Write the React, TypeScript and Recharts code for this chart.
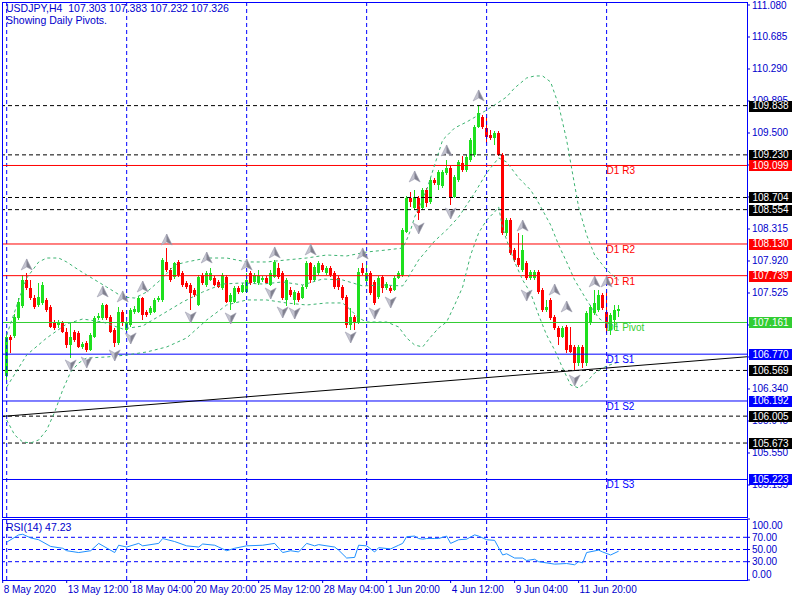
import React from "react";
import {
  ComposedChart,
  Bar,
  Line,
  Scatter,
  XAxis,
  YAxis,
  ReferenceLine,
} from "recharts";

// USDJPY H4 candles, bar 0 = 8 May 2020
const opens = [
  106.501, 106.982, 106.994, 107.216, 107.365, 107.686, 107.587, 107.463, 107.377, 107.402,
  107.439, 107.353, 107.167, 107.13, 107.155, 107.043, 106.883, 107.043, 107.031, 106.859,
  106.908, 106.822, 106.982, 107.216, 107.216, 107.377, 107.229, 107.068, 106.908, 107.29,
  107.068, 107.13, 107.29, 107.29, 107.463, 107.29, 107.278, 107.29, 107.439, 107.439,
  107.908, 107.809, 107.723, 107.908, 107.772, 107.649, 107.624, 107.562, 107.377, 107.748,
  107.624, 107.686, 107.71, 107.661, 107.587, 107.723, 107.414, 107.414, 107.587, 107.537,
  107.537, 107.772, 107.661, 107.649, 107.686, 107.71, 107.624, 107.723, 107.834, 107.772,
  107.439, 107.562, 107.439, 107.525, 107.463, 107.599, 107.896, 107.686, 107.772, 107.871,
  107.772, 107.834, 107.772, 107.71, 107.599, 107.476, 107.13, 107.229, 107.155, 107.834,
  107.674, 107.772, 107.661, 107.476, 107.723, 107.587, 107.587, 107.562, 107.71, 107.748,
  108.278, 108.698, 108.574, 108.698, 108.574, 108.797, 108.648, 108.92, 108.858, 108.846,
  109.007, 109.068, 108.71, 108.92, 109.13, 109.044, 109.167, 109.229, 109.574, 109.698,
  109.562, 109.476, 109.439, 109.5, 109.229, 108.266, 108.426, 108.056, 107.957, 107.809,
  107.896, 107.71, 107.71, 107.784, 107.562, 107.315, 107.439, 107.229, 107.093, 106.982,
  107.106, 106.883, 106.859, 106.661, 106.859, 106.661, 107.155, 107.278, 107.315, 107.5,
  107.29, 107.068, 107.192, 107.303,
];
const highs = [
  107.019, 107.006, 107.266, 107.463, 107.748, 107.772, 107.686, 107.5, 107.649, 107.661,
  107.463, 107.377, 107.192, 107.192, 107.18, 107.093, 107.155, 107.068, 107.056, 106.92,
  106.933, 107.031, 107.241, 107.278, 107.402, 107.389, 107.253, 107.093, 107.353, 107.315,
  107.18, 107.34, 107.365, 107.488, 107.476, 107.315, 107.365, 107.463, 107.488, 107.957,
  108.08, 107.834, 107.908, 107.933, 107.797, 107.674, 107.649, 107.587, 107.748, 107.772,
  107.797, 107.834, 107.735, 107.686, 107.772, 107.748, 107.525, 107.612, 107.612, 107.649,
  107.772, 107.797, 107.772, 107.809, 107.735, 107.735, 107.809, 107.933, 107.896, 107.797,
  107.71, 107.599, 107.562, 107.55, 107.624, 107.921, 107.908, 107.871, 107.921, 107.896,
  107.859, 107.859, 107.797, 107.735, 107.624, 107.5, 107.34, 107.253, 107.834, 107.896,
  107.871, 107.797, 107.686, 107.735, 107.748, 107.661, 107.612, 107.735, 107.797, 108.328,
  108.722, 108.772, 108.797, 108.722, 108.821, 108.821, 108.945, 108.945, 109.044, 109.044,
  109.167, 109.093, 108.982, 109.167, 109.216, 109.229, 109.439, 109.599, 109.846, 109.722,
  109.698, 109.537, 109.525, 109.525, 109.253, 108.451, 108.451, 108.08, 108.266, 108.241,
  107.921, 107.809, 107.809, 107.809, 107.587, 107.439, 107.463, 107.253, 107.118, 107.118,
  107.13, 107.106, 106.883, 106.883, 106.883, 107.303, 107.377, 107.562, 107.562, 107.525,
  107.537, 107.278, 107.377, 107.383,
];
const lows = [
  106.451, 106.785, 106.97, 107.192, 107.34, 107.562, 107.439, 107.328, 107.353, 107.377,
  107.29, 107.093, 107.068, 107.093, 107.031, 106.846, 106.723, 106.92, 106.846, 106.834,
  106.797, 106.81, 106.97, 107.192, 107.192, 107.192, 107.031, 106.859, 106.883, 107.118,
  107.043, 107.106, 107.266, 107.278, 107.192, 107.229, 107.253, 107.278, 107.414, 107.414,
  107.784, 107.661, 107.698, 107.723, 107.599, 107.575, 107.315, 107.476, 107.365, 107.624,
  107.599, 107.674, 107.612, 107.587, 107.562, 107.402, 107.315, 107.402, 107.513, 107.525,
  107.525, 107.624, 107.636, 107.624, 107.661, 107.636, 107.612, 107.71, 107.698, 107.439,
  107.365, 107.476, 107.377, 107.414, 107.451, 107.575, 107.649, 107.661, 107.748, 107.784,
  107.748, 107.723, 107.575, 107.562, 107.439, 107.093, 107.068, 107.068, 107.143, 107.748,
  107.649, 107.5, 107.377, 107.451, 107.525, 107.562, 107.525, 107.55, 107.698, 107.723,
  108.266, 108.587, 108.55, 108.426, 108.55, 108.587, 108.624, 108.858, 108.797, 108.821,
  108.982, 108.611, 108.698, 108.895, 109.019, 109.019, 109.142, 109.204, 109.562, 109.549,
  109.377, 109.414, 109.352, 109.216, 108.241, 108.229, 107.994, 107.908, 107.846, 107.784,
  107.686, 107.686, 107.686, 107.513, 107.29, 107.29, 107.192, 107.068, 106.883, 106.97,
  106.785, 106.785, 106.575, 106.624, 106.599, 106.624, 107.13, 107.253, 107.29, 107.315,
  107.031, 107.006, 107.068, 107.232,
];
const closes = [
  106.982, 106.945, 107.229, 107.414, 107.686, 107.587, 107.463, 107.353, 107.476, 107.624,
  107.315, 107.106, 107.093, 107.167, 107.043, 106.883, 106.982, 106.945, 106.859, 106.896,
  106.822, 107.006, 107.216, 107.241, 107.377, 107.216, 107.043, 106.908, 107.29, 107.155,
  107.155, 107.315, 107.328, 107.463, 107.253, 107.253, 107.34, 107.439, 107.463, 107.933,
  107.809, 107.686, 107.896, 107.748, 107.624, 107.599, 107.525, 107.5, 107.723, 107.649,
  107.772, 107.772, 107.624, 107.599, 107.748, 107.414, 107.5, 107.587, 107.537, 107.624,
  107.686, 107.649, 107.748, 107.735, 107.71, 107.649, 107.772, 107.908, 107.723, 107.463,
  107.686, 107.5, 107.537, 107.439, 107.599, 107.896, 107.686, 107.846, 107.896, 107.809,
  107.834, 107.748, 107.599, 107.599, 107.463, 107.13, 107.229, 107.155, 107.784, 107.772,
  107.772, 107.525, 107.402, 107.71, 107.587, 107.636, 107.55, 107.71, 107.772, 108.303,
  108.698, 108.648, 108.71, 108.513, 108.797, 108.636, 108.92, 108.883, 109.019, 109.019,
  109.068, 108.71, 108.957, 109.142, 109.044, 109.204, 109.414, 109.574, 109.747, 109.574,
  109.451, 109.439, 109.5, 109.229, 108.266, 108.426, 108.019, 107.933, 107.871, 108.056,
  107.71, 107.784, 107.784, 107.537, 107.315, 107.353, 107.216, 107.093, 106.982, 107.093,
  106.822, 106.797, 106.661, 106.859, 106.661, 107.278, 107.353, 107.402, 107.5, 107.34,
  107.093, 107.253, 107.315, 107.326,
];

// Bollinger bands (20), read at selected bars: [bar, price]
const bbUpper: [number, number][] = [
  [0, 107.006], [3, 107.439], [5, 107.71], [8, 107.908], [10, 107.957], [13, 107.957],
  [15, 107.908], [18, 107.809], [20, 107.748], [25, 107.599], [29, 107.476], [32, 107.463],
  [35, 107.537], [39, 107.71], [42, 107.871], [45, 107.908], [50, 107.957], [55, 107.957],
  [60, 107.908], [65, 107.908], [70, 107.933], [75, 107.957], [80, 107.994], [85, 107.982],
  [90, 108.031], [95, 108.056], [99, 108.08], [100, 108.179], [101, 108.303], [102, 108.463],
  [105, 108.797], [107, 109.105], [109, 109.414], [112, 109.562], [115, 109.636], [118, 109.722],
  [120, 109.784], [122, 109.846], [125, 109.945], [127, 110.056], [130, 110.179], [132, 110.204],
  [134, 110.204], [136, 110.13], [138, 109.846], [140, 109.414], [142, 108.858], [143, 108.587],
  [145, 108.241], [147, 107.994], [150, 107.809], [153, 107.686],
];
const bbMiddle: [number, number][] = [
  [0, 106.365], [5, 106.76], [10, 106.97], [15, 107.143], [19, 107.204], [24, 107.167],
  [29, 107.081], [34, 107.118], [39, 107.266], [44, 107.414], [49, 107.537], [54, 107.636],
  [59, 107.649], [64, 107.636], [69, 107.661], [74, 107.624], [79, 107.698], [84, 107.686],
  [89, 107.612], [94, 107.624], [99, 107.612], [100, 107.686], [103, 107.933], [107, 108.167],
  [110, 108.303], [113, 108.463], [117, 108.76], [120, 109.007], [123, 109.192], [125, 109.142],
  [128, 108.945], [131, 108.797], [133, 108.636], [136, 108.365], [138, 108.118], [140, 107.908],
  [142, 107.686], [145, 107.439], [148, 107.216], [150, 107.142], [153, 107.105],
];
const bbLower: [number, number][] = [
  [0, 105.958], [2, 105.772], [4, 105.686], [6, 105.674], [8, 105.711], [10, 105.834],
  [12, 106.056], [14, 106.328], [16, 106.55], [18, 106.661], [20, 106.723], [25, 106.735],
  [30, 106.76], [35, 106.797], [40, 106.859], [45, 106.97], [50, 107.192], [55, 107.377],
  [60, 107.439], [65, 107.439], [70, 107.402], [75, 107.377], [80, 107.402], [84, 107.402],
  [86, 107.315], [88, 107.216], [90, 107.167], [95, 107.167], [98, 107.106], [100, 106.97],
  [102, 106.883], [104, 106.859], [106, 106.982], [108, 107.093], [110, 107.167], [112, 107.377],
  [114, 107.599], [116, 107.994], [118, 108.266], [120, 108.426], [122, 108.525], [123, 108.587],
  [124, 108.328], [125, 108.179], [127, 107.908], [129, 107.686], [131, 107.525], [133, 107.253],
  [135, 107.006], [137, 106.822], [139, 106.599], [141, 106.39], [143, 106.353], [145, 106.427],
  [147, 106.537], [150, 106.624], [153, 106.673],
];

// RSI(14) read at selected bars
const rsiPoints: [number, number][] = [
  [0, 62], [3, 74], [4, 75], [6, 69], [8, 66], [11, 55], [14, 52], [15, 48], [18, 45],
  [21, 48], [23, 60], [27, 45], [28, 57], [30, 54], [33, 60], [34, 56], [38, 60], [39, 68],
  [42, 63], [45, 56], [48, 54], [49, 59], [52, 57], [53, 54], [55, 48], [57, 52], [60, 56],
  [64, 57], [67, 60], [69, 45], [71, 48], [73, 46], [75, 60], [77, 56], [78, 58], [82, 54],
  [83, 49], [85, 36], [87, 37], [88, 57], [90, 56], [92, 46], [93, 53], [96, 51], [98, 57],
  [99, 60], [100, 71], [102, 72], [103, 68], [104, 67], [105, 68], [107, 68], [108, 68],
  [110, 72], [111, 60], [113, 66], [115, 67], [117, 74], [118, 72], [120, 66], [122, 65],
  [124, 41], [125, 43], [127, 36], [129, 36], [130, 32], [132, 34], [133, 30], [137, 26],
  [140, 27], [142, 25], [143, 30], [144, 28], [145, 45], [148, 49], [149, 46], [151, 41],
  [153, 47.23],
];

// fractals: [bar, price of the arrow]
const fractalsUp: [number, number][] = [
  [5, 107.871], [24, 107.538], [29, 107.476], [34, 107.599], [40, 108.179], [50, 107.957],
  [60, 107.871], [67, 108.019], [76, 108.056], [89, 108.007], [102, 108.957], [110, 109.278],
  [118, 109.957], [129, 108.352], [137, 107.562], [140, 107.352], [147, 107.661], [150, 107.661],
];
const fractalsDown: [number, number][] = [
  [16, 106.637], [20, 106.673], [27, 106.76], [31, 106.97], [46, 107.229], [56, 107.217],
  [66, 107.525], [69, 107.291], [72, 107.278], [86, 106.982], [92, 107.278], [96, 107.414],
  [103, 108.328], [111, 108.513], [130, 107.5], [142, 106.451],
];

// daily pivots
const pivotNames = ["D1 R3", "D1 R2", "D1 R1", "D1 Pivot", "D1 S1", "D1 S2", "D1 S3"];
const pivotValues = [109.099, 108.13, 107.739, 107.161, 106.77, 106.192, 105.223];
const pivotStartBar = 150;
const dashedLevels = [109.838, 109.23, 108.704, 108.554, 106.569, 106.005, 105.673];
const trendline = [
  { x: -1.05, y: 106.002 },
  { x: 185.1, y: 106.738 },
];

const priceTicks = [
  111.08, 110.685, 110.29, 109.895, 109.5, 109.105, 108.71, 108.315, 107.92, 107.525, 107.13,
  106.735, 106.34, 105.945, 105.55, 105.155,
];
const rsiTicks = [100, 70, 50, 30, 0];
const rsiLevels = [70, 50, 30];
const timeTicks = [-1, 15, 31, 47, 63, 79, 95, 111, 127, 143];
const timeLabels = [
  "8 May 2020",
  "13 May 12:00",
  "18 May 04:00",
  "20 May 20:00",
  "25 May 12:00",
  "28 May 04:00",
  "1 Jun 20:00",
  "4 Jun 12:00",
  "9 Jun 04:00",
  "11 Jun 20:00",
];
const gridBars = [0, 30, 60, 90, 120, 150];

const FONT = '"Liberation Sans", Arial, sans-serif';
const TEXT_BLUE = "#0000cc";
const GRID_BLUE = "#0000ff";
const BULL = "#1ee01e";
const BEAR = "#ff0000";
const BANDS = "#3cb371";
const PIVOT_COLORS = ["#ff0000", "#ff0000", "#ff0000", "#32cd32", "#0000ff", "#0000ff", "#0000ff"];
const X_DOMAIN: [number, number] = [-1.05, 185.1];

type Row = {
  i: number;
  open: number;
  high: number;
  low: number;
  close: number;
  bbUp: number | null;
  bbMid: number | null;
  bbLow: number | null;
  rsi: number | null;
};

const rows: Row[] = opens.map((o, i) => ({
  i,
  open: o,
  high: highs[i],
  low: lows[i],
  close: closes[i],
  bbUp: null,
  bbMid: null,
  bbLow: null,
  rsi: null,
}));
bbUpper.forEach(([i, v]) => (rows[i].bbUp = v));
bbMiddle.forEach(([i, v]) => (rows[i].bbMid = v));
bbLower.forEach(([i, v]) => (rows[i].bbLow = v));
rsiPoints.forEach(([i, v]) => (rows[i].rsi = v));

const upArrows = fractalsUp.map(([i, p]) => ({ i, p }));
const downArrows = fractalsDown.map(([i, p]) => ({ i, p }));
const pivotTags = pivotValues.map((p, k) => ({ i: pivotStartBar, p, name: pivotNames[k], color: PIVOT_COLORS[k] }));

// price tags on the right scale: level value -> box colour
const tagColors = new Map<number, string>();
dashedLevels.forEach((v) => tagColors.set(v, "#000"));
pivotValues.forEach((v, k) => tagColors.set(v, PIVOT_COLORS[k]));
// tags come after the plain ticks so they are drawn on top of them
const axisTicks = [...priceTicks, ...dashedLevels, ...pivotValues];

const Candle = (props: any) => {
  const { x, y, width, height, payload } = props;
  if (x == null || y == null || !payload) return null;
  const top = Math.min(y, y + height);
  const h = Math.abs(height);
  const { open, close, high, low } = payload;
  const k = high > low ? h / (high - low) : 0;
  const yO = top + (high - open) * k;
  const yC = top + (high - close) * k;
  const color = close >= open ? BULL : BEAR;
  const cx = Math.round(x + width / 2 - 0.5);
  const bodyTop = Math.round(Math.min(yO, yC));
  const bodyH = Math.max(1, Math.round(Math.abs(yC - yO)));
  return (
    <g shapeRendering="crispEdges">
      <rect x={cx} y={Math.round(top)} width={1} height={Math.max(1, Math.round(h))} fill={color} />
      <rect x={cx - 1} y={bodyTop} width={3} height={bodyH} fill={color} />
    </g>
  );
};

const FractalUp = (props: any) => {
  const { cx, cy } = props;
  if (cx == null) return null;
  return (
    <g>
      <path d={`M${cx},${cy - 6} L${cx},${cy + 2} L${cx - 5.5},${cy + 5} Z`} fill="#c4c4d0" stroke="#a0a0b0" strokeWidth={0.6} />
      <path d={`M${cx},${cy - 6} L${cx + 5.5},${cy + 5} L${cx},${cy + 2} Z`} fill="#80808e" stroke="#a0a0b0" strokeWidth={0.6} />
    </g>
  );
};

const FractalDown = (props: any) => {
  const { cx, cy } = props;
  if (cx == null) return null;
  return (
    <g>
      <path d={`M${cx},${cy + 6} L${cx},${cy - 2} L${cx - 5.5},${cy - 5} Z`} fill="#c4c4d0" stroke="#a0a0b0" strokeWidth={0.6} />
      <path d={`M${cx},${cy + 6} L${cx + 5.5},${cy - 5} L${cx},${cy - 2} Z`} fill="#80808e" stroke="#a0a0b0" strokeWidth={0.6} />
    </g>
  );
};

const PivotName = (props: any) => {
  const { cx, cy, payload } = props;
  if (cx == null || !payload) return null;
  return (
    <text x={cx} y={cy + 9} fill={payload.color} fontSize={10} fontFamily={FONT}>
      {payload.name}
    </text>
  );
};

const PriceAxisTick = (props: any) => {
  const { x, y, payload } = props;
  const v: number = payload.value;
  const bg = tagColors.get(v);
  if (bg) {
    return (
      <g>
        <rect x={x - 3} y={Math.round(y) - 5} width={43} height={11} fill={bg} shapeRendering="crispEdges" />
        <text x={x + 18.5} y={y} dy="0.35em" textAnchor="middle" fill="#fff" fontSize={10} fontFamily={FONT}>
          {v.toFixed(3)}
        </text>
      </g>
    );
  }
  return (
    <g>
      <line x1={x - 5} x2={x - 2} y1={y} y2={y} stroke={TEXT_BLUE} />
      <text x={x} y={y} dy="0.35em" fill={TEXT_BLUE} fontSize={10} fontFamily={FONT}>
        {v.toFixed(3)}
      </text>
    </g>
  );
};

const TimeTick = (props: any) => {
  const { x, y, payload } = props;
  const k = timeTicks.indexOf(payload.value);
  return (
    <text x={x + 1} y={y + 8} fill={TEXT_BLUE} fontSize={10} fontFamily={FONT}>
      {timeLabels[k]}
    </text>
  );
};

const RsiTick = (props: any) => {
  const { x, y, payload } = props;
  const v = payload.value;
  const dy = v === 100 ? 6 : v === 0 ? -6 : 0;
  return (
    <g>
      <line x1={x - 5} x2={x - 2} y1={y} y2={y} stroke={TEXT_BLUE} />
      <text x={x} y={y + dy} dy="0.35em" fill={TEXT_BLUE} fontSize={10} fontFamily={FONT}>
        {v.toFixed(2)}
      </text>
    </g>
  );
};

export default function App() {
  const last = opens.length - 1;
  const header = `USDJPY,H4  ${opens[last].toFixed(3)} ${highs[last].toFixed(3)} ${lows[last].toFixed(3)} ${closes[last].toFixed(3)}`;
  const lastRsi = rsiPoints[rsiPoints.length - 1][1];

  return (
    <div style={{ position: "absolute", left: 0, top: 0, width: 800, height: 600, background: "#fff", fontFamily: FONT }}>
      <div style={{ position: "absolute", left: 0, top: 0 }}>
        <ComposedChart width={800} height={520} data={rows} margin={{ top: 2, right: 0, bottom: 3, left: 2.5 }}>
          <XAxis dataKey="i" type="number" domain={X_DOMAIN} allowDataOverflow hide />
          <YAxis
            orientation="right"
            domain={[104.76, 111.117]}
            allowDataOverflow
            ticks={axisTicks}
            interval={0}
            width={53}
            axisLine={false}
            tickLine={false}
            tickSize={3}
            tick={(p: any) => <PriceAxisTick {...p} />}
          />
          {gridBars.map((b) => (
            <ReferenceLine key={`g${b}`} x={b} stroke={GRID_BLUE} strokeDasharray="4 3" />
          ))}
          {dashedLevels.map((v) => (
            <ReferenceLine key={`d${v}`} y={v} stroke="#000" strokeDasharray="4 3" />
          ))}
          {pivotValues.map((v, k) => (
            <ReferenceLine key={`p${v}`} y={v} stroke={PIVOT_COLORS[k]} />
          ))}
          <ReferenceLine segment={trendline} stroke="#000" />
          <Scatter data={pivotTags} dataKey="p" shape={(p: any) => <PivotName {...p} />} isAnimationActive={false} />
          <Bar
            dataKey={(d: Row) => [d.low, d.high]}
            barSize={3}
            shape={(p: any) => <Candle {...p} />}
            isAnimationActive={false}
          />
          <Line dataKey="bbUp" stroke={BANDS} strokeDasharray="3 3" dot={false} connectNulls isAnimationActive={false} />
          <Line dataKey="bbMid" stroke={BANDS} strokeDasharray="3 3" dot={false} connectNulls isAnimationActive={false} />
          <Line dataKey="bbLow" stroke={BANDS} strokeDasharray="3 3" dot={false} connectNulls isAnimationActive={false} />
          <Scatter data={upArrows} dataKey="p" shape={(p: any) => <FractalUp {...p} />} isAnimationActive={false} />
          <Scatter data={downArrows} dataKey="p" shape={(p: any) => <FractalDown {...p} />} isAnimationActive={false} />
        </ComposedChart>
      </div>

      <div style={{ position: "absolute", left: 0, top: 517 }}>
        <ComposedChart width={800} height={83} data={rows} margin={{ top: 2, right: 0, bottom: 0, left: 2.5 }}>
          <XAxis
            dataKey="i"
            type="number"
            domain={X_DOMAIN}
            allowDataOverflow
            ticks={timeTicks}
            interval={0}
            height={20}
            axisLine={false}
            tickSize={3}
            tickLine={{ stroke: TEXT_BLUE }}
            tick={(p: any) => <TimeTick {...p} />}
          />
          <YAxis
            orientation="right"
            domain={[0, 100]}
            allowDataOverflow
            ticks={rsiTicks}
            interval={0}
            width={53}
            axisLine={false}
            tickLine={false}
            tickSize={3}
            tick={(p: any) => <RsiTick {...p} />}
          />
          {gridBars.map((b) => (
            <ReferenceLine key={`rg${b}`} x={b} stroke={GRID_BLUE} strokeDasharray="4 3" />
          ))}
          {rsiLevels.map((v) => (
            <ReferenceLine key={`rl${v}`} y={v} stroke={GRID_BLUE} strokeDasharray="4 3" />
          ))}
          <Line dataKey="rsi" stroke="#1e90ff" dot={false} connectNulls isAnimationActive={false} />
        </ComposedChart>
      </div>

      <div style={{ position: "absolute", left: 2, top: 2, width: 746, height: 516, boxSizing: "border-box", border: `1px solid ${GRID_BLUE}`, pointerEvents: "none" }} />
      <div style={{ position: "absolute", left: 2, top: 519, width: 746, height: 62, boxSizing: "border-box", border: `1px solid ${GRID_BLUE}`, pointerEvents: "none" }} />

      <div style={{ position: "absolute", left: 6, top: 2, fontSize: 10.5, lineHeight: "12px", color: TEXT_BLUE, whiteSpace: "pre" }}>
        {header}
        <br />
        Showing Daily Pivots.
      </div>
      <div style={{ position: "absolute", left: 6, top: 521, fontSize: 10.5, lineHeight: "12px", color: TEXT_BLUE, whiteSpace: "pre" }}>
        {`RSI(14) ${lastRsi.toFixed(2)}`}
      </div>
    </div>
  );
}
